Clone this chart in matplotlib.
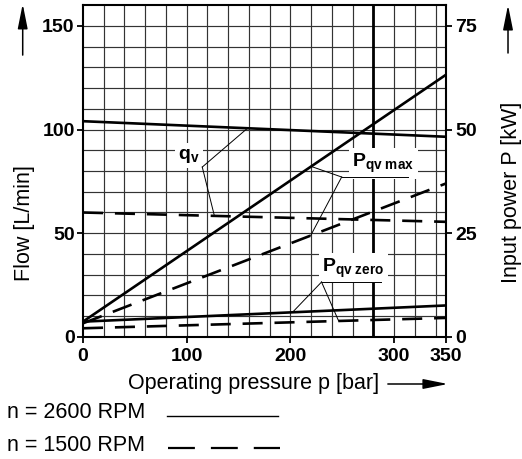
import matplotlib
matplotlib.use('Agg')
import matplotlib.pyplot as plt
import numpy as np
from matplotlib.lines import Line2D
from matplotlib.patches import FancyArrowPatch

plt.rcParams['font.family'] = ['Liberation Sans', 'DejaVu Sans']
plt.rcParams['mathtext.fontset'] = 'custom'
plt.rcParams['mathtext.bf'] = 'Liberation Sans:bold'
plt.rcParams['mathtext.rm'] = 'Liberation Sans'
plt.rcParams['mathtext.it'] = 'Liberation Sans:italic'

# ---- data ----
pressure = [0, 350]                 # bar
qv_2600 = [104.0, 96.5]             # L/min
qv_1500 = [60.0, 55.5]              # L/min
p_max_2600 = [3.7, 63.2]            # kW
p_max_1500 = [3.3, 37.0]            # kW
p_zero_2600 = [3.7, 7.6]            # kW
p_zero_1500 = [2.1, 4.6]            # kW

x_ticks = [0, 100, 200, 300, 350]
flow_ticks = [0, 50, 100, 150]
power_ticks = [0, 25, 50, 75]

fig = plt.figure(figsize=(5.22, 4.59), dpi=100)
ax = fig.add_axes([0.159, 0.2658, 0.6954, 0.7233])
ax2 = ax.twinx()

ax.set_xlim(0, 350)
ax.set_ylim(0, 160)
ax2.set_ylim(0, 80)

grid_c = '#333333'
for gx in np.arange(20, 350, 20):
    ax.axvline(gx, color=grid_c, lw=0.85, zorder=1)
for gy in np.arange(10, 160, 10):
    ax.axhline(gy, color=grid_c, lw=0.85, zorder=1)
ax.axvline(280, color='black', lw=2.0, zorder=1.5)

LW = 1.9
DASH = (7.6, 4.5)
ax.plot(pressure, qv_2600, color='black', lw=LW, zorder=3)
ax.plot(pressure, qv_1500, color='black', lw=LW, dashes=DASH, zorder=3)
ax2.plot(pressure, p_max_2600, color='black', lw=LW, zorder=3)
ax2.plot(pressure, p_max_1500, color='black', lw=LW, dashes=DASH, zorder=3)
ax2.plot(pressure, p_zero_2600, color='black', lw=LW, zorder=3)
ax2.plot(pressure, p_zero_1500, color='black', lw=LW, dashes=DASH, zorder=3)

# ---- labels with leaders ----
box = dict(facecolor='white', edgecolor='none', pad=2.5)
lab_fs = 14
ax2.text(91.8, 85.8, r'$\mathbf{q}_\mathbf{v}$', transform=ax.transData,
         fontsize=lab_fs, ha='left', va='baseline', bbox=box, zorder=4)
ax2.text(259.8, 40.96, r'$\mathbf{P}_\mathbf{qv\ max}$', fontsize=lab_fs,
         ha='left', va='baseline', bbox=box, zorder=4)
ax2.text(230.8, 15.7, r'$\mathbf{P}_\mathbf{qv\ zero}$', fontsize=lab_fs,
         ha='left', va='baseline', bbox=box, zorder=4)

llw = 0.7
# qv leaders (flow units)
vx, vy = 115, 81.9
for px, ser in [(158.6, qv_2600), (126.7, qv_1500)]:
    ax2.plot([vx, px], [vy, np.interp(px, pressure, ser)], color='black',
             lw=llw, transform=ax.transData, zorder=5)
# P qv max leaders (kW units)
vx, vy = 249.4, 38.55
for px, ser in [(220, p_max_2600), (219.5, p_max_1500)]:
    ax2.plot([vx, px], [vy, np.interp(px, pressure, ser)], color='black', lw=llw, zorder=5)
ax2.plot([vx, 313], [vy, vy], color='black', lw=llw, zorder=5)
# P qv zero leaders
vx, vy = 230, 13.25
for px, ser in [(202, p_zero_2600), (246.5, p_zero_1500)]:
    ax2.plot([vx, px], [vy, np.interp(px, pressure, ser)], color='black', lw=llw, zorder=5)
ax2.plot([vx, 287], [vy, vy], color='black', lw=llw, zorder=5)

# ---- ticks & spines ----
tick_fs = 14
ax.set_xticks(x_ticks)
ax.set_xticklabels([str(v) for v in x_ticks], fontsize=tick_fs, fontweight='bold')
ax.set_yticks(flow_ticks)
ax.set_yticklabels([str(v) for v in flow_ticks], fontsize=tick_fs, fontweight='bold')
ax2.set_yticks(power_ticks)
ax2.set_yticklabels([str(v) for v in power_ticks], fontsize=tick_fs, fontweight='bold')
ax.tick_params(axis='x', direction='out', length=4.5, width=1.3, pad=3.5)
ax.tick_params(axis='y', direction='out', length=4.5, width=1.3, pad=1.5)
ax2.tick_params(axis='y', direction='out', length=4.5, width=1.3, pad=2)

for s in ['left', 'top', 'bottom']:
    ax.spines[s].set_linewidth(1.5)
    ax2.spines[s].set_visible(False)
ax.spines['right'].set_visible(False)
ax2.spines['right'].set_linewidth(1.5)

# ---- axis titles ----
txt_fs = 15.5
fig.text(0.046, 0.514, 'Flow [L/min]', rotation=90, fontsize=txt_fs,
         ha='center', va='center')
fig.text(0.979, 0.5806, 'Input power P [kW]', rotation=90, fontsize=txt_fs,
         ha='center', va='center')
fig.text(0.4866, 0.1525, 'Operating pressure p [bar]', fontsize=txt_fs,
         ha='center', va='baseline')

# arrows
def farrow(p0, p1):
    fig.add_artist(FancyArrowPatch(p0, p1, transform=fig.transFigure,
                                   arrowstyle='-|>,head_length=15,head_width=3',
                                   mutation_scale=1, lw=1.1, color='black',
                                   shrinkA=0, shrinkB=0))
farrow((0.0435, 0.880), (0.0435, 0.9913))
farrow((0.9732, 0.8845), (0.9732, 0.989))
farrow((0.743, 0.1634), (0.858, 0.1634))

# legend rows
fig.text(0.0128, 0.0887, 'n = 2600 RPM', fontsize=txt_fs, ha='left', va='baseline')
fig.text(0.0128, 0.0181, 'n = 1500 RPM', fontsize=txt_fs, ha='left', va='baseline')
fig.add_artist(Line2D([167/522, 278/522], [0.0937, 0.0937], transform=fig.transFigure,
                      color='black', lw=1.0))
fig.add_artist(Line2D([168/522, 280/522], [0.0233, 0.0233], transform=fig.transFigure,
                      color='black', lw=1.6, dashes=(12.1, 7.2)))

fig.savefig('out.png', dpi=100)
